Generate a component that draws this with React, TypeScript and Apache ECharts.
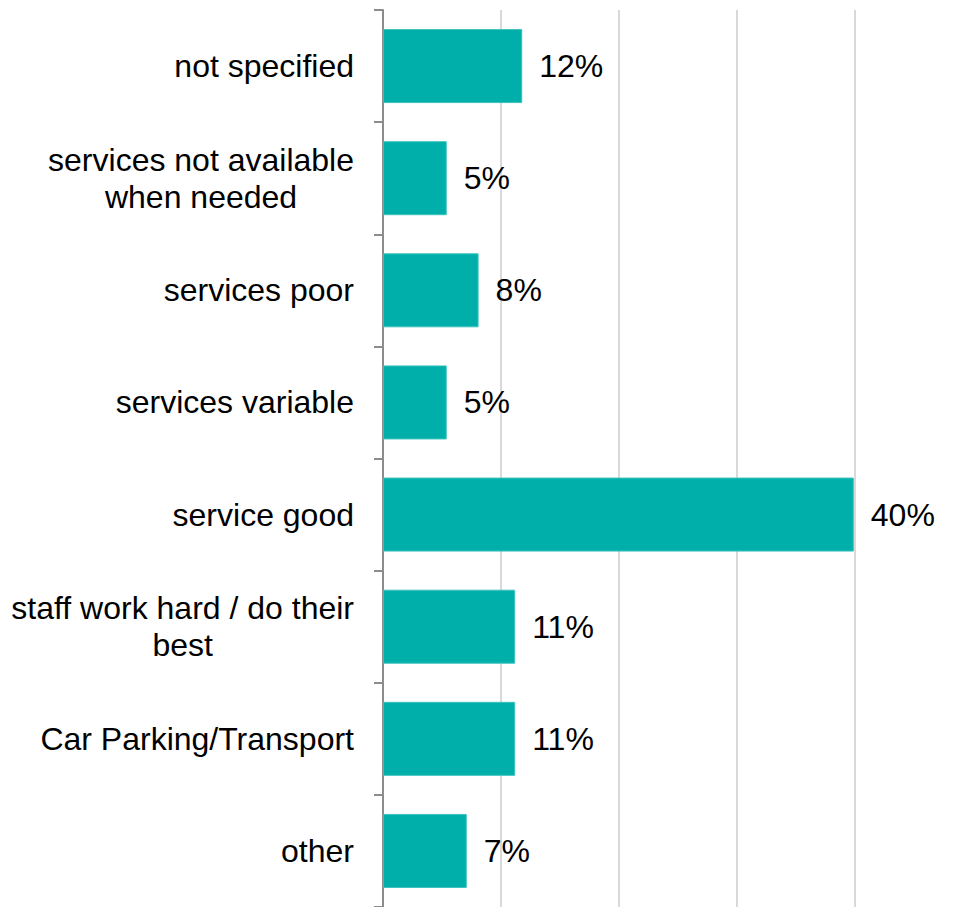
import React, { useEffect, useRef } from "react";
import * as echarts from "echarts";

const categories = [
  "not specified",
  "services not available\nwhen needed",
  "services poor",
  "services variable",
  "service good",
  "staff work hard / do their\nbest",
  "Car Parking/Transport",
  "other",
];
const values = [11.8, 5.4, 8.1, 5.4, 39.9, 11.2, 11.2, 7.1];
const axisMax = 40;
const axisInterval = 10;

export default function App() {
  const ref = useRef<HTMLDivElement>(null);
  useEffect(() => {
    if (!ref.current) return;
    const chart = echarts.init(ref.current, undefined, { renderer: "svg" });
    const font = "'Liberation Sans', Arial, sans-serif";
    chart.setOption({
      animation: false,
      grid: { left: 383, top: 10, width: 472, height: 901, containLabel: false },
      xAxis: {
        type: "value",
        min: 0,
        max: axisMax,
        interval: axisInterval,
        axisLabel: { show: false },
        axisLine: { show: false },
        axisTick: { show: false },
        splitLine: { show: true, lineStyle: { color: "#d9d9d9", width: 2 } },
      },
      yAxis: {
        type: "category",
        data: categories,
        inverse: true,
        axisLine: { show: true, lineStyle: { color: "#8c8c8c", width: 2 } },
        axisTick: { show: true, length: 9, lineStyle: { color: "#8c8c8c", width: 2 } },
        axisLabel: {
          margin: 29,
          fontFamily: font,
          fontSize: 32,
          color: "#000",
          lineHeight: 37,
          formatter: (v: string) =>
            v
              .split("\n")
              .map((l) => `{c|${l}}`)
              .join("\n"),
          rich: {
            c: { align: "center", fontFamily: font, fontSize: 32, color: "#000", lineHeight: 37 },
          },
        },
        splitLine: { show: false },
      },
      series: [
        {
          type: "bar",
          data: values,
          barWidth: 74,
          itemStyle: { color: "#00AFA9", borderColor: "#3cc2bd", borderWidth: 1 },
          label: {
            show: true,
            position: "right",
            distance: 17,
            fontFamily: font,
            fontSize: 32,
            color: "#000",
            formatter: (p: any) => `${Math.round(p.value)}%`,
          },
        },
      ],
    });
    return () => chart.dispose();
  }, []);
  return (
    <div
      ref={ref}
      style={{ position: "fixed", left: 0, top: 0, width: 965, height: 907, background: "#fff" }}
    />
  );
}
